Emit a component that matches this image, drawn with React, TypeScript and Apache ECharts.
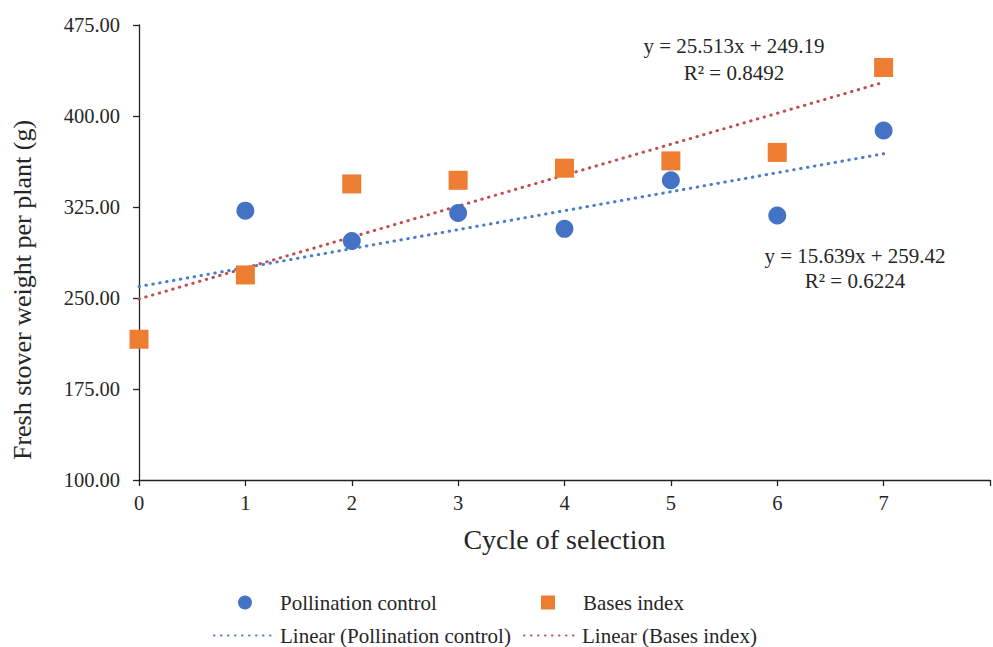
import React, { useEffect, useRef } from "react";
import * as echarts from "echarts";

const cycles = [0, 1, 2, 3, 4, 5, 6, 7];
const pollinationControl = [216, 322, 297, 320, 307, 347, 318, 388];
const basesIndex = [216, 269, 344, 347, 357, 363, 370, 440];
const trendX = [0, 7];
const trendPollination = [259.42, 368.89];
const trendBases = [249.19, 427.78];
const eqPollination = ["y = 15.639x + 259.42", "R² = 0.6224"];
const eqBases = ["y = 25.513x + 249.19", "R² = 0.8492"];
const seriesNames = [
  "Pollination control",
  "Bases index",
  "Linear (Pollination control)",
  "Linear (Bases index)",
];
const xTitle = "Cycle of selection";
const yTitle = "Fresh stover weight per plant (g)";

const FONT = '"Liberation Serif", "Times New Roman", serif';
const BLUE = "#4472C4";
const ORANGE = "#ED7D31";
const TREND_BLUE = "#4A7EC8";
const TREND_RED = "#C0504D";
const TEXT = "#262626";

export default function App() {
  const ref = useRef<HTMLDivElement>(null);
  useEffect(() => {
    if (!ref.current) return;
    const chart = echarts.init(ref.current, undefined, { renderer: "svg" });
    const pair = (xs: number[], ys: number[]) => xs.map((x, i) => [x, ys[i]]);
    const legendBase = {
      selectedMode: false,
      itemGap: 0,
      textStyle: { fontFamily: FONT, fontSize: 21, color: TEXT },
    };
    const hiddenSymbol = { color: "rgba(0,0,0,0)", borderWidth: 0, opacity: 0 };
    const dotted = { width: 3, type: [0.5, 6.5], cap: "round" };
    chart.setOption({
      animation: false,
      backgroundColor: "#fff",
      grid: { left: 139, right: 2, top: 25, bottom: 167, containLabel: false },
      xAxis: {
        type: "value",
        min: 0,
        max: 8,
        interval: 1,
        name: xTitle,
        nameLocation: "middle",
        nameGap: 45,
        nameTextStyle: { fontFamily: FONT, fontSize: 28, color: TEXT },
        axisLine: { show: true, onZero: false, lineStyle: { color: "#222", width: 1.3 } },
        axisTick: { show: true, length: 6, inside: false, lineStyle: { color: "#222", width: 1.3 } },
        axisLabel: {
          fontFamily: FONT,
          fontSize: 20.5,
          color: TEXT,
          margin: 12,
          formatter: (v: number) => (v <= 7 ? String(v) : ""),
        },
        splitLine: { show: false },
      },
      yAxis: {
        type: "value",
        min: 100,
        max: 475,
        interval: 75,
        axisLine: { show: true, lineStyle: { color: "#222", width: 1.3 } },
        axisTick: { show: true, length: 6, lineStyle: { color: "#222", width: 1.3 } },
        axisLabel: {
          fontFamily: FONT,
          fontSize: 20.5,
          color: TEXT,
          margin: 19,
          formatter: (v: number) => v.toFixed(2),
        },
        splitLine: { show: false },
      },
      legend: [
        {
          ...legendBase,
          data: [seriesNames[0]],
          left: 233,
          top: 587,
          itemWidth: 14,
          itemHeight: 14,
          textStyle: { ...legendBase.textStyle, padding: [0, 0, 0, 23] },
        },
        {
          ...legendBase,
          data: [seriesNames[1]],
          left: 536,
          top: 587,
          itemWidth: 14,
          itemHeight: 14,
          textStyle: { ...legendBase.textStyle, padding: [0, 0, 0, 23] },
        },
        {
          ...legendBase,
          data: [seriesNames[2]],
          left: 208,
          top: 620,
          itemWidth: 61,
          itemHeight: 14,
          itemStyle: hiddenSymbol,
        },
        {
          ...legendBase,
          data: [seriesNames[3]],
          left: 518,
          top: 620,
          itemWidth: 53,
          itemHeight: 14,
          itemStyle: hiddenSymbol,
        },
      ],
      series: [
        {
          name: seriesNames[0],
          type: "scatter",
          symbol: "circle",
          symbolSize: 18,
          itemStyle: { color: BLUE, opacity: 1 },
          data: pair(cycles, pollinationControl),
          z: 3,
        },
        {
          name: seriesNames[1],
          type: "scatter",
          symbol: "rect",
          symbolSize: 19,
          itemStyle: { color: ORANGE, opacity: 1 },
          data: pair(cycles, basesIndex),
          z: 4,
        },
        {
          name: seriesNames[2],
          type: "line",
          symbol: "none",
          lineStyle: { color: TREND_BLUE, ...dotted },
          itemStyle: { color: TREND_BLUE },
          data: pair(trendX, trendPollination),
          z: 2,
        },
        {
          name: seriesNames[3],
          type: "line",
          symbol: "none",
          lineStyle: { color: TREND_RED, ...dotted },
          itemStyle: { color: TREND_RED },
          data: pair(trendX, trendBases),
          z: 2,
        },
      ],
      graphic: [
        {
          type: "text",
          x: 22,
          y: 290,
          rotation: Math.PI / 2,
          style: {
            text: yTitle,
            fontFamily: FONT,
            fontSize: 26,
            fill: TEXT,
            align: "center",
            verticalAlign: "middle",
          },
        },
        {
          type: "text",
          x: 734,
          y: 32,
          style: {
            text: eqBases.join("\n"),
            fontFamily: FONT,
            fontSize: 21,
            lineHeight: 27,
            fill: TEXT,
            align: "center",
            verticalAlign: "top",
          },
        },
        {
          type: "text",
          x: 855,
          y: 243,
          style: {
            text: eqPollination.join("\n"),
            fontFamily: FONT,
            fontSize: 21,
            lineHeight: 25,
            fill: TEXT,
            align: "center",
            verticalAlign: "top",
          },
        },
      ],
    });
    return () => chart.dispose();
  }, []);
  return (
    <div
      ref={ref}
      style={{ position: "fixed", left: 0, top: 0, width: 993, height: 647, background: "#fff" }}
    />
  );
}
